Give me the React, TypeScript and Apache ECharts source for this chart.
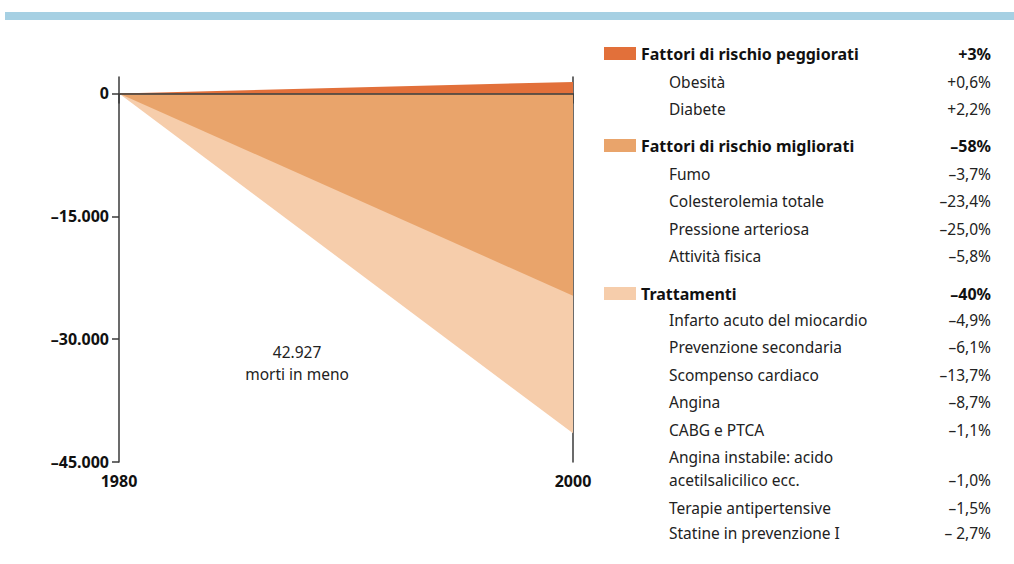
import React, { useEffect, useRef } from "react";
import * as echarts from "echarts";

const years = [1980, 2000];
const peggiorati = [0, 1400];
const migliorati = [0, -24700];
const trattamenti = [0, -16800];
const yTicks = [-45000, -30000, -15000, 0];

const colPegg = "#e2703a";
const colMigl = "#e9a46b";
const colTratt = "#f6cdab";

const groupHeaders = ["Fattori di rischio peggiorati", "Fattori di rischio migliorati", "Trattamenti"];
const groupValues = ["+3%", "\u201358%", "\u201340%"];
const groupColors = [colPegg, colMigl, colTratt];
const groupY = [54, 146, 294];

const itemNames = [
  ["Obesità", "Diabete"],
  ["Fumo", "Colesterolemia totale", "Pressione arteriosa", "Attività fisica"],
  [
    "Infarto acuto del miocardio",
    "Prevenzione secondaria",
    "Scompenso cardiaco",
    "Angina",
    "CABG e PTCA",
    "Angina instabile: acido\nacetilsalicilico ecc.",
    "Terapie antipertensive",
    "Statine in prevenzione I",
  ],
];
const itemValues = [
  ["+0,6%", "+2,2%"],
  ["\u20133,7%", "\u201323,4%", "\u201325,0%", "\u20135,8%"],
  ["\u20134,9%", "\u20136,1%", "\u201313,7%", "\u20138,7%", "\u20131,1%", "\u20131,0%", "\u20131,5%", "\u2013 2,7%"],
];
const itemY = [
  [82, 109],
  [174, 201, 229, 256],
  [320, 347, 375, 402, 430, 480, 508, 533],
];

const FONT = "'Noto Sans', 'Open Sans', sans-serif";

function fmt(v: number): string {
  const a = Math.abs(v);
  const s = String(a).replace(/\B(?=(\d{3})+(?!\d))/g, ".");
  return v < 0 ? "\u2013" + s : s;
}

export default function App() {
  const ref = useRef<HTMLDivElement>(null);
  useEffect(() => {
    if (!ref.current) return;
    const chart = echarts.init(ref.current, undefined, { renderer: "svg" });
    const graphics: any[] = [
      { type: "rect", shape: { x: 5, y: 12, width: 1009, height: 8 }, style: { fill: "#a6d0e3" } },
      {
        type: "text",
        x: 297,
        y: 352,
        style: { text: "42.927", font: `15.5px ${FONT}`, fill: "#222", textAlign: "center", textVerticalAlign: "middle" },
      },
      {
        type: "text",
        x: 297,
        y: 374,
        style: { text: "morti in meno", font: `15.5px ${FONT}`, fill: "#222", textAlign: "center", textVerticalAlign: "middle" },
      },
    ];
    groupHeaders.forEach((h, gi) => {
      const y = groupY[gi];
      graphics.push({ type: "rect", shape: { x: 604, y: y - 7, width: 32, height: 13 }, style: { fill: groupColors[gi] } });
      graphics.push({
        type: "text",
        x: 641,
        y,
        style: { text: h, font: `bold 16px ${FONT}`, fill: "#111", textVerticalAlign: "middle" },
      });
      graphics.push({
        type: "text",
        x: 991,
        y,
        style: { text: groupValues[gi], font: `bold 16px ${FONT}`, fill: "#111", textAlign: "right", textVerticalAlign: "middle" },
      });
      itemNames[gi].forEach((n, ii) => {
        const iy = itemY[gi][ii];
        const lines = n.split("\n");
        lines.forEach((ln, k) => {
          graphics.push({
            type: "text",
            x: 669,
            y: iy - 23 * (lines.length - 1 - k),
            style: { text: ln, font: `15.5px ${FONT}`, fill: "#222", textVerticalAlign: "middle" },
          });
        });
        graphics.push({
          type: "text",
          x: 991,
          y: iy,
          style: { text: itemValues[gi][ii], font: `15.5px ${FONT}`, fill: "#222", textAlign: "right", textVerticalAlign: "middle" },
        });
      });
    });

    chart.setOption({
      animation: false,
      grid: { left: 119, right: 441, top: 77, bottom: 102, containLabel: false },
      xAxis: {
        type: "value",
        min: 1980,
        max: 2000,
        interval: 20,
        axisLine: { show: true, lineStyle: { color: "#3a3a3a", width: 1.5 } },
        axisTick: { show: true, length: 10, lineStyle: { color: "#3a3a3a", width: 1.5 } },
        axisLabel: { color: "#111", fontWeight: "bold", fontSize: 16, fontFamily: FONT, margin: 11, formatter: (v: number) => String(v) },
        splitLine: { show: false },
      },
      yAxis: [
        {
          type: "value",
          min: -45000,
          max: 2000,
          axisLine: { show: true, lineStyle: { color: "#3a3a3a", width: 1.5 } },
          axisTick: { show: true, length: 7, customValues: yTicks, lineStyle: { color: "#3a3a3a", width: 1.5 } },
          axisLabel: {
            customValues: yTicks,
            color: "#111",
            fontWeight: "bold",
            fontSize: 16,
            fontFamily: FONT,
            margin: 10,
            formatter: (v: number) => fmt(v),
          },
          splitLine: { show: false },
        },
        {
          type: "value",
          position: "right",
          min: -45000,
          max: 2000,
          axisLine: { show: true, lineStyle: { color: "#3a3a3a", width: 1.5 } },
          axisTick: { show: false },
          axisLabel: { show: false },
          splitLine: { show: false },
        },
      ],
      series: [
        {
          type: "line",
          name: "Trattamenti",
          data: years.map((y, i) => [y, migliorati[i] + trattamenti[i]]),
          symbol: "none",
          lineStyle: { width: 0 },
          areaStyle: { color: colTratt, opacity: 1, origin: 0 },
          z: 2,
        },
        {
          type: "line",
          name: "Fattori di rischio migliorati",
          data: years.map((y, i) => [y, migliorati[i]]),
          symbol: "none",
          lineStyle: { width: 0 },
          areaStyle: { color: colMigl, opacity: 1, origin: 0 },
          z: 3,
        },
        {
          type: "line",
          name: "Fattori di rischio peggiorati",
          data: years.map((y, i) => [y, peggiorati[i]]),
          symbol: "none",
          lineStyle: { width: 0 },
          areaStyle: { color: colPegg, opacity: 1, origin: 0 },
          z: 3,
          markLine: {
            silent: true,
            symbol: "none",
            label: { show: false },
            lineStyle: { color: "#3a3a3a", width: 1.5, type: "solid" },
            data: [{ yAxis: 0 }],
            z: 5,
          },
        },
      ],
      graphic: graphics,
    });
    return () => chart.dispose();
  }, []);
  return <div ref={ref} style={{ position: "fixed", left: 0, top: 0, width: 1014, height: 564, background: "#fff" }} />;
}
